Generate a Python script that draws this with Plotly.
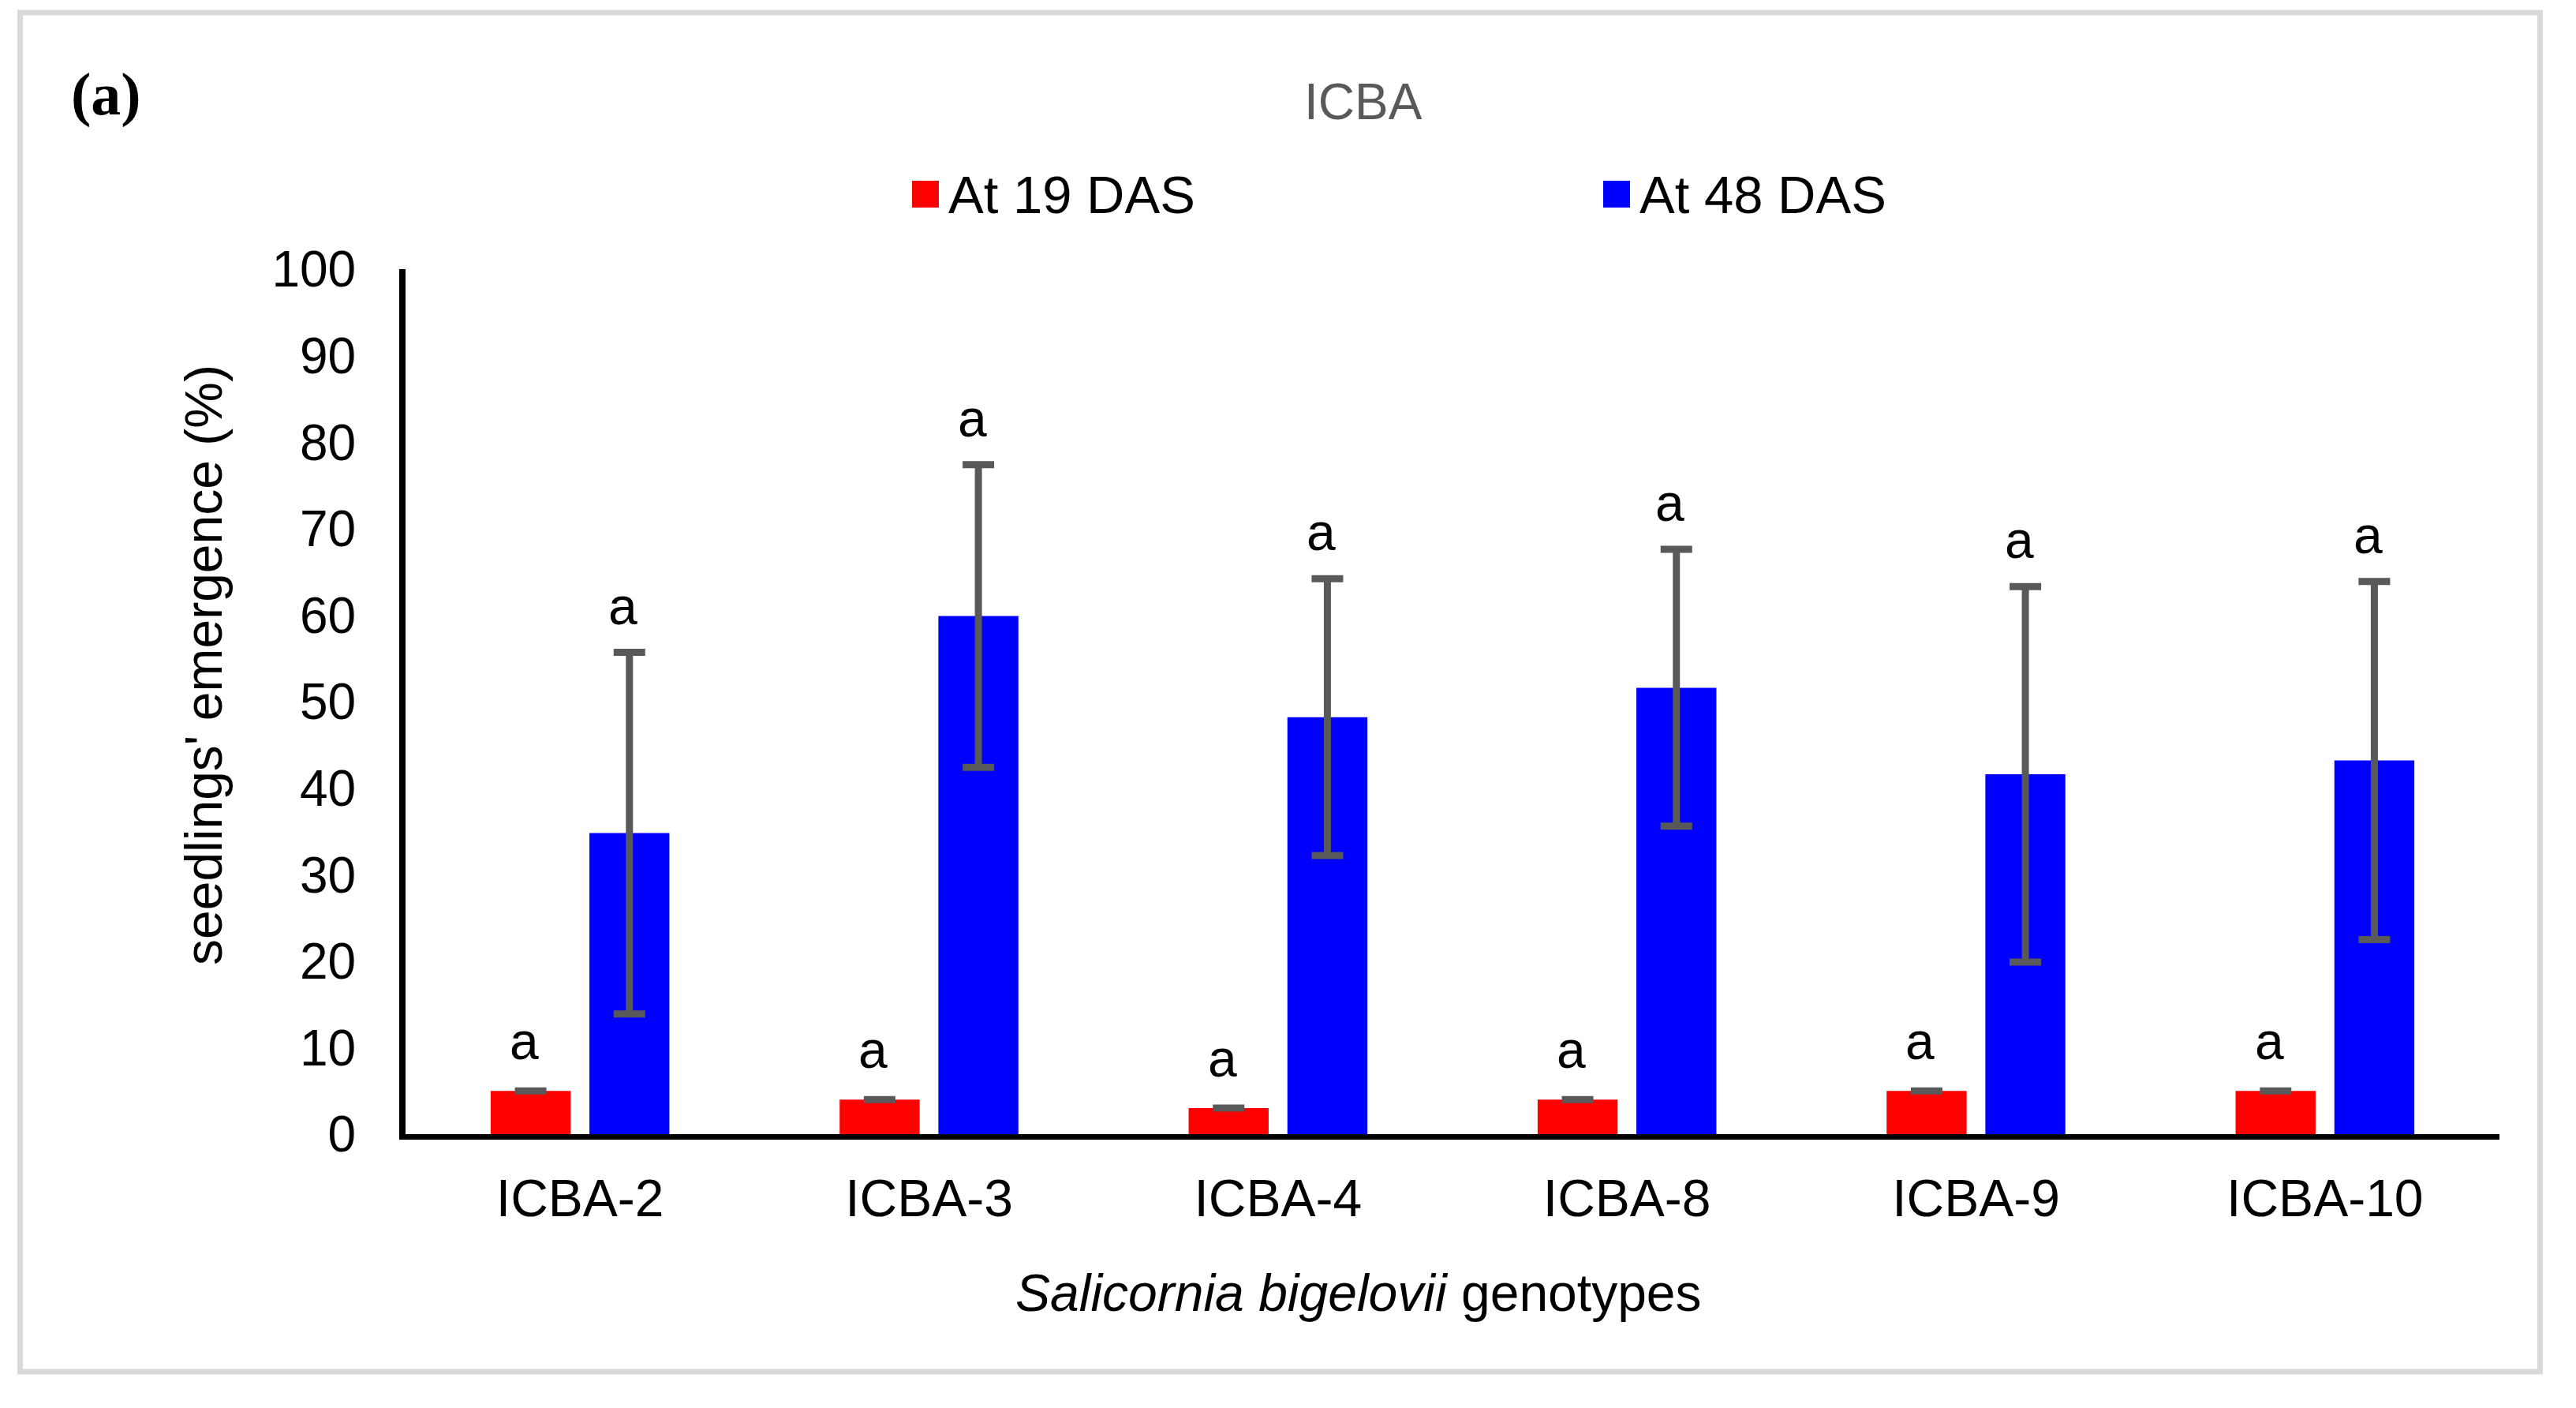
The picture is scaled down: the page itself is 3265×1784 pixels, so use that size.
import plotly.graph_objects as go

# data
genotypes = ["ICBA-2", "ICBA-3", "ICBA-4", "ICBA-8", "ICBA-9", "ICBA-10"]
das19 = [5.0, 4.0, 3.0, 4.0, 5.0, 5.0]
das19_err = [0, 0, 0, 0, 0, 0]
das48 = [34.8, 59.9, 48.2, 51.6, 41.6, 43.2]
das48_err = [20.9, 17.5, 16.0, 16.0, 21.7, 20.7]
letters19 = ["a", "a", "a", "a", "a", "a"]
letters48 = ["a", "a", "a", "a", "a", "a"]
y_ticks = list(range(0, 101, 10))

# the html page has an 8px body margin, so the figure is a bit smaller than the window
PAD = 8
W, H = 3265 - 2 * PAD, 1784 - 2 * PAD
# plot area in page pixels
PL, PR, PT, PB = 514, 3168, 341, 1437
L, T = PL - PAD, PT - PAD
R, B = W - (PR - PAD), H - (PB - PAD)
plot_w = PR - PL
plot_h = PB - PT
BARGAP = 0.434
FONT = "Arial, Liberation Sans, sans-serif"

# page pixel -> paper helpers for decorations outside the plot area
def px(x):
    return (x - PL) / plot_w

def py(y):
    return (PB - y) / plot_h

fig = go.Figure()
fig.add_trace(go.Bar(
    x=genotypes, y=das19, name="At 19 DAS",
    marker=dict(color="#FF0000", line=dict(width=0)),
    error_y=dict(type="data", array=das19_err, color="#595959", thickness=9, width=20),
    showlegend=False,
))
fig.add_trace(go.Bar(
    x=genotypes, y=das48, name="At 48 DAS",
    marker=dict(color="#0000FF", line=dict(width=0)),
    error_y=dict(type="data", array=das48_err, color="#595959", thickness=9, width=20),
    showlegend=False,
))

# significance letters above each bar
slot = plot_w / len(genotypes) * (1 - BARGAP) / 2
for g, v, e, t in zip(genotypes, das19, das19_err, letters19):
    fig.add_annotation(x=g, y=v + e, text=t, showarrow=False, xshift=-slot / 2 - 8,
                       yanchor="bottom", yshift=24, font=dict(size=66, color="black"))
for g, v, e, t in zip(genotypes, das48, das48_err, letters48):
    fig.add_annotation(x=g, y=v + e, text=t, showarrow=False, xshift=slot / 2 - 8,
                       yanchor="bottom", yshift=20, font=dict(size=66, color="black"))

# legend drawn by hand so the swatches match the reference size
legend_items = [("At 19 DAS", "#FF0000", 1156), ("At 48 DAS", "#0000FF", 2032)]
for name, color, x0 in legend_items:
    fig.add_shape(type="rect", xref="paper", yref="paper",
                  x0=px(x0), x1=px(x0 + 34), y0=py(263), y1=py(229),
                  fillcolor=color, line=dict(width=0))
    fig.add_annotation(xref="paper", yref="paper", x=px(x0 + 44), y=py(247), text=name,
                       showarrow=False, xanchor="left", yanchor="middle",
                       font=dict(size=67, color="black"))

# title, panel tag, axis titles
fig.add_annotation(xref="paper", yref="paper", x=px(1728), y=py(129), text="ICBA",
                   showarrow=False, xanchor="center", yanchor="middle",
                   font=dict(size=64, color="#595959"))
fig.add_annotation(xref="paper", yref="paper", x=px(134), y=py(120), text="<b>(a)</b>",
                   showarrow=False, xanchor="center", yanchor="middle",
                   font=dict(size=76, color="black",
                             family="Times New Roman, Liberation Serif, serif"))
fig.add_annotation(xref="paper", yref="paper", x=px(258), y=py(843),
                   text="seedlings' emergence (%)", textangle=-90,
                   showarrow=False, xanchor="center", yanchor="middle",
                   font=dict(size=66, color="black"))
fig.add_annotation(xref="paper", yref="paper", x=px(1722), y=py(1638),
                   text="<i>Salicornia bigelovii</i> genotypes",
                   showarrow=False, xanchor="center", yanchor="middle",
                   font=dict(size=66, color="black"))

# light grey frame around the whole figure
fig.add_shape(type="rect", xref="paper", yref="paper",
              x0=px(25.5), x1=px(3219.5), y0=py(1738), y1=py(16),
              line=dict(color="#D9D9D9", width=7), fillcolor="rgba(0,0,0,0)")

fig.update_layout(
    width=W, height=H,
    margin=dict(l=L, r=R, t=T, b=B, autoexpand=False),
    paper_bgcolor="white", plot_bgcolor="white",
    font=dict(family=FONT, size=66, color="black"),
    barmode="group", bargap=BARGAP, bargroupgap=0.19,
    xaxis=dict(showline=True, linecolor="black", linewidth=7, ticks="",
               showgrid=False, zeroline=False, ticklabelstandoff=18,
               tickfont=dict(size=66)),
    yaxis=dict(range=[0, 100], tickvals=y_ticks, showline=True, linecolor="black",
               linewidth=8, ticks="", showgrid=False, zeroline=False,
               ticklabelstandoff=42, tickfont=dict(size=64)),
    showlegend=False,
)

fig.write_html("out.html")
